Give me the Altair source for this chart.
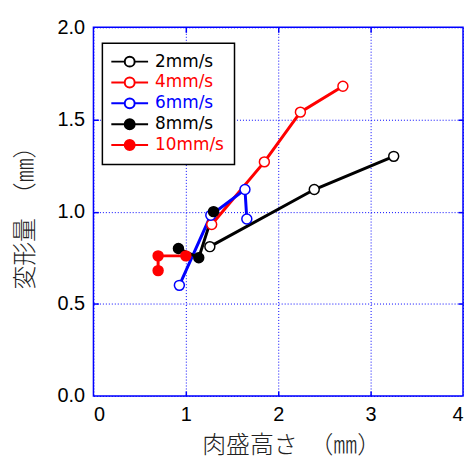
import altair as alt
import pandas as pd

series = ["2mm/s", "4mm/s", "6mm/s", "8mm/s", "10mm/s"]
x_vals = [
    [1.26, 2.39, 3.25],
    [1.28, 1.85, 2.24, 2.70],
    [0.93, 1.27, 1.64, 1.66],
    [0.92, 1.14, 1.30],
    [0.70, 0.70, 1.00],
]
y_vals = [
    [0.81, 1.12, 1.30],
    [0.93, 1.27, 1.54, 1.68],
    [0.60, 0.98, 1.12, 0.96],
    [0.80, 0.75, 1.00],
    [0.68, 0.76, 0.76],
]
line_colors = ["#000000", "#ff0000", "#0000ff", "#000000", "#ff0000"]
fill_colors = ["#ffffff", "#ffffff", "#ffffff", "#000000", "#ff0000"]
x_ticks = [0, 1, 2, 3, 4]
y_ticks = [0.0, 0.5, 1.0, 1.5, 2.0]
x_inner_ticks = [1, 2, 3]
y_inner_ticks = [0.5, 1.0, 1.5]

rows = []
for s, xs, ys in zip(series, x_vals, y_vals):
    for i, (a, b) in enumerate(zip(xs, ys)):
        rows.append({"series": s, "x": a, "y": b, "i": i})
df = pd.DataFrame(rows)

BLUE = "#0000ff"
xscale = alt.Scale(domain=[0, 4], nice=False, zero=False)
yscale = alt.Scale(domain=[0, 2], nice=False, zero=False)
stroke_scale = alt.Scale(domain=series, range=line_colors)
fill_scale = alt.Scale(domain=series, range=fill_colors)

sym_path = "M-3.7,0L-1,0M1,0L3.7,0M-1,0A1,1,0,1,1,1,0A1,1,0,1,1,-1,0Z"
label_expr = ("(datum.value == '4mm/s' || datum.value == '10mm/s') ? '#ff0000' : "
              "(datum.value == '6mm/s' ? '#0000ff' : '#000000')")
legend = alt.Legend(
    title=None, orient="none", legendX=9, legendY=16,
    symbolType=sym_path, symbolSize=100, symbolStrokeWidth=2,
    symbolOffset=9, labelOffset=17,
    labelFont="DejaVu Sans", labelFontSize=17,
    labelColor={"expr": label_expr},
    fillColor="white", strokeColor="black", padding=10, rowPadding=2,
)

main_x = alt.X("x:Q", scale=xscale, axis=alt.Axis(
    values=x_ticks, format="d", ticks=False, domain=False,
    labelFont="Liberation Sans", labelFontSize=20, labelColor="black", labelPadding=9,
    grid=True, gridColor=BLUE, gridDash=[1, 2], gridWidth=1,
    title="肉盛高さ　（㎜）", titleFont="Noto Sans CJK JP", titleFontSize=24,
    titleFontWeight=300, titleColor="#222222", titleX=199, titleY=38,
))
main_y = alt.Y("y:Q", scale=yscale, axis=alt.Axis(
    values=y_ticks, format=".1f", ticks=False, domain=False,
    labelFont="Liberation Sans", labelFontSize=20, labelColor="black", labelPadding=9,
    grid=True, gridColor=BLUE, gridDash=[1, 2], gridWidth=1,
    title="変形量　（㎜）", titleFont="Noto Sans CJK JP", titleFontSize=24,
    titleFontWeight=300, titleColor="#222222", titleX=-56, titleY=185.5,
))

base = alt.Chart(df)

lines = base.mark_line(strokeWidth=3).encode(
    x=main_x, y=main_y,
    stroke=alt.Stroke("series:N", scale=stroke_scale, legend=legend),
    order="i:Q",
)
points = base.mark_point(shape="circle", filled=True, size=100, strokeWidth=1.5, opacity=1).encode(
    x=alt.X("x:Q", scale=xscale, axis=None),
    y=alt.Y("y:Q", scale=yscale, axis=None),
    stroke=alt.Stroke("series:N", scale=stroke_scale, legend=legend),
    fill=alt.Fill("series:N", scale=fill_scale, legend=legend),
)

def tick_axis(orient, vals):
    return alt.Axis(orient=orient, offset=-5, tickSize=5, tickWidth=1.5, tickColor=BLUE,
                    values=vals, labels=False, domain=False, grid=False, title=None)

ticks_bl = base.mark_point(opacity=0).encode(
    x=alt.X("x:Q", scale=xscale, axis=tick_axis("bottom", x_inner_ticks)),
    y=alt.Y("y:Q", scale=yscale, axis=tick_axis("left", y_inner_ticks)),
)
ticks_tr = base.mark_point(opacity=0).encode(
    x=alt.X("x:Q", scale=xscale, axis=tick_axis("top", x_inner_ticks)),
    y=alt.Y("y:Q", scale=yscale, axis=tick_axis("right", y_inner_ticks)),
)

chart = alt.layer(lines, points, ticks_bl, ticks_tr).resolve_axis(
    x="independent", y="independent"
).properties(
    width=372, height=371,
    padding={"left": 6, "top": 8, "right": 0, "bottom": 0},
).configure_view(
    stroke=BLUE, strokeWidth=1.5
).configure_legend(strokeWidth=1.5)

chart.save("out.html", embed_options={"renderer": "svg", "actions": False})
